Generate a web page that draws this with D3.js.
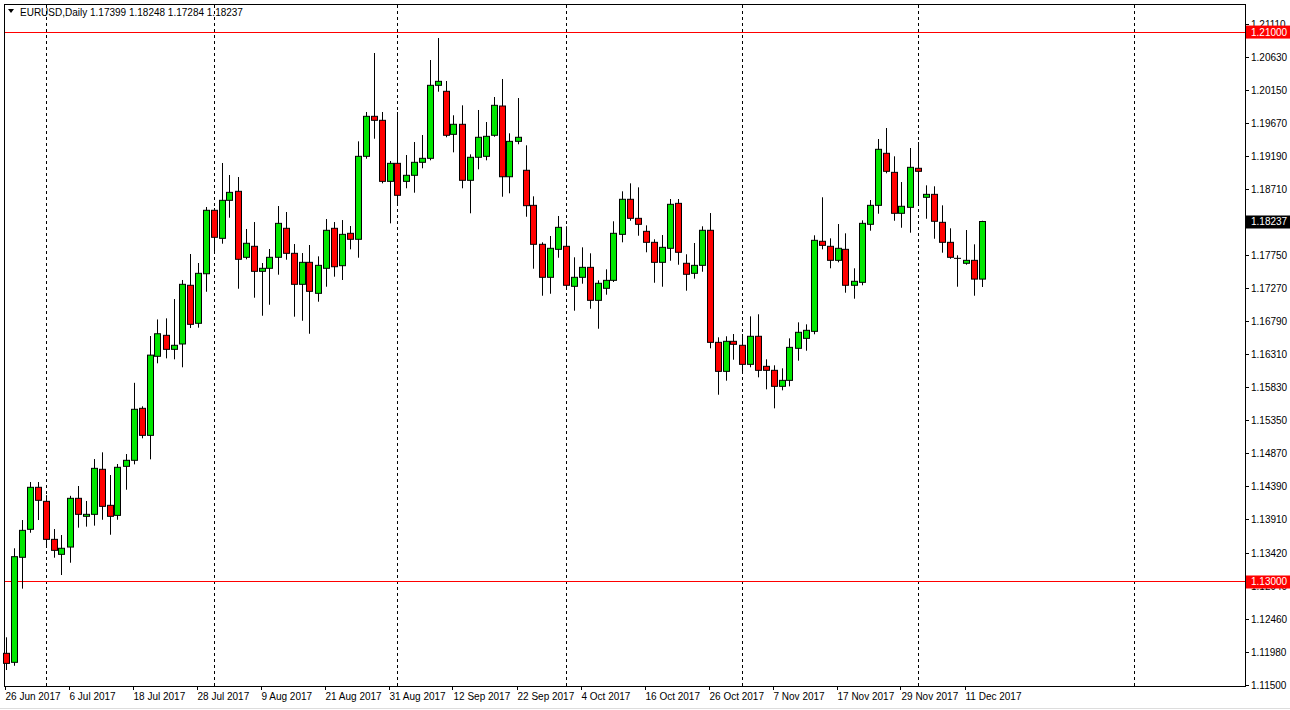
<!DOCTYPE html>
<html><head><meta charset="utf-8">
<script src="https://cdn.jsdelivr.net/npm/d3@7"></script>
<style>body{margin:0;background:#fff;}svg{display:block;}</style>
</head><body><svg id="c" width="1290" height="710"></svg>
<script>
const opens=[1.11955,1.11824,1.13352,1.13759,1.1437,1.14166,1.13613,1.13395,1.13501,1.1421,1.13948,1.13977,1.14632,1.14108,1.13962,1.14675,1.14763,1.15519,1.15126,1.16276,1.16581,1.16377,1.16455,1.17309,1.16756,1.17477,1.184,1.17992,1.18545,1.18676,1.17716,1.17876,1.17512,1.17556,1.17716,1.18138,1.17774,1.17323,1.17643,1.17192,1.17556,1.18138,1.17594,1.18065,1.17978,1.19185,1.19767,1.19709,1.18821,1.19083,1.18821,1.18909,1.19098,1.19156,1.20218,1.20131,1.19505,1.19651,1.18836,1.19171,1.19185,1.19491,1.19917,1.18888,1.19403,1.18982,1.18472,1.17905,1.17425,1.17832,1.17876,1.17294,1.17425,1.1757,1.1709,1.17265,1.17381,1.1805,1.1856,1.18283,1.18094,1.17934,1.17643,1.17847,1.18501,1.17629,1.17483,1.17599,1.18109,1.16479,1.16057,1.16494,1.16436,1.16159,1.16567,1.1613,1.16072,1.15839,1.15926,1.16392,1.16537,1.16639,1.17949,1.17876,1.17672,1.17832,1.17309,1.17352,1.18196,1.18472,1.19229,1.18952,1.18356,1.18443,1.19011,1.18589,1.18632,1.18225,1.17934,1.17701,1.17629,1.17672,1.17399];
const highs=[1.12188,1.13483,1.13894,1.14447,1.14447,1.14256,1.13763,1.13676,1.14246,1.14389,1.14171,1.14781,1.14879,1.14549,1.14709,1.14854,1.1589,1.15548,1.16571,1.16812,1.16828,1.17109,1.17386,1.17764,1.17633,1.18448,1.18433,1.19088,1.18913,1.18884,1.18128,1.18229,1.17633,1.17837,1.18462,1.18375,1.17909,1.17778,1.17895,1.1773,1.18273,1.18229,1.18258,1.18171,1.19403,1.1983,1.20688,1.1983,1.19117,1.1983,1.19204,1.19393,1.19495,1.20586,1.20906,1.20281,1.19782,1.19927,1.19214,1.19859,1.19684,1.20048,1.2031,1.1952,1.20033,1.19345,1.18603,1.17934,1.18026,1.18317,1.18167,1.17716,1.17861,1.17774,1.17381,1.17541,1.1824,1.18676,1.18792,1.18734,1.18181,1.17978,1.1804,1.18564,1.18564,1.1776,1.17924,1.18167,1.1836,1.16552,1.16567,1.166,1.166,1.16857,1.16887,1.16232,1.16145,1.16101,1.16537,1.1677,1.16741,1.18036,1.18589,1.17992,1.182,1.18065,1.17556,1.18254,1.18549,1.19437,1.19597,1.19185,1.18811,1.19306,1.19393,1.18763,1.18749,1.18472,1.18138,1.17745,1.18113,1.17905,1.18248];
const lows=[1.11712,1.11774,1.12896,1.13709,1.13894,1.13506,1.13346,1.13094,1.13273,1.13783,1.13798,1.13812,1.13898,1.1368,1.13898,1.14335,1.14704,1.15083,1.14777,1.16174,1.16246,1.16232,1.16116,1.16687,1.16692,1.17215,1.17783,1.17914,1.18292,1.17259,1.17687,1.17128,1.16866,1.17026,1.17463,1.17681,1.16852,1.16793,1.16604,1.1707,1.17288,1.17434,1.17386,1.17832,1.1771,1.1915,1.19441,1.18792,1.1821,1.18487,1.1872,1.18656,1.19011,1.19127,1.20125,1.19462,1.19243,1.1872,1.18356,1.18996,1.19127,1.1947,1.18597,1.18647,1.1936,1.18306,1.1755,1.17157,1.17186,1.1771,1.17265,1.16939,1.17332,1.16968,1.16677,1.17172,1.17357,1.17934,1.18248,1.1803,1.17789,1.17346,1.17288,1.17666,1.17608,1.1723,1.17405,1.17506,1.16392,1.15717,1.15921,1.16226,1.16037,1.16116,1.1597,1.15795,1.15519,1.15781,1.15839,1.16212,1.16357,1.16596,1.17832,1.17556,1.17643,1.17201,1.17114,1.17309,1.18103,1.1835,1.18938,1.18248,1.18146,1.18074,1.18481,1.18277,1.17986,1.17783,1.17695,1.17288,1.17608,1.17157,1.17284];
const closes=[1.11809,1.13361,1.13744,1.1437,1.14181,1.13613,1.13453,1.13483,1.1421,1.13977,1.13977,1.14646,1.14093,1.13948,1.14661,1.14763,1.15505,1.15126,1.16293,1.16604,1.16377,1.16436,1.17323,1.16741,1.17483,1.184,1.18007,1.18545,1.18661,1.17687,1.1792,1.17512,1.17556,1.17716,1.1821,1.17774,1.17323,1.17643,1.17221,1.17599,1.18109,1.17579,1.1805,1.17978,1.19185,1.19767,1.19709,1.18821,1.19083,1.18618,1.18909,1.19098,1.19156,1.20218,1.20276,1.19491,1.19651,1.18836,1.19171,1.19462,1.19476,1.19927,1.18888,1.19403,1.19462,1.18467,1.17905,1.17425,1.17847,1.18152,1.17309,1.17425,1.1757,1.1709,1.17338,1.17381,1.18065,1.1856,1.18283,1.18196,1.17934,1.17643,1.17861,1.18487,1.17789,1.17469,1.17599,1.18109,1.16479,1.16057,1.16494,1.1645,1.16159,1.16567,1.16072,1.16072,1.15839,1.15926,1.16406,1.16625,1.16654,1.17963,1.1789,1.17672,1.17847,1.17309,1.17367,1.1821,1.18472,1.19287,1.18967,1.18356,1.18458,1.19025,1.18967,1.18632,1.1824,1.17934,1.17716,1.17701,1.17672,1.17399,1.18237];
const dateLabels=["26 Jun 2017","6 Jul 2017","18 Jul 2017","28 Jul 2017","9 Aug 2017","21 Aug 2017","31 Aug 2017","12 Sep 2017","22 Sep 2017","4 Oct 2017","16 Oct 2017","26 Oct 2017","7 Nov 2017","17 Nov 2017","29 Nov 2017","11 Dec 2017"];
const dateLabelIdx=[0,8,16,24,32,40,48,56,64,72,80,88,96,104,112,120];
const monthStartIdx=[5,26,49,70,92,114,141];
const priceTicks=[1.21110,1.20630,1.20150,1.19670,1.19190,1.18710,1.17750,1.17270,1.16790,1.16310,1.15830,1.15350,1.14870,1.14390,1.13910,1.13420,1.12940,1.12460,1.11980,1.11500];
const hLines=[1.21000,1.13000];
const symbol="EURUSD,Daily";

const svg=d3.select("#c");
const L=4,R=1245,T=4,B=686;
const x=d3.scaleLinear().domain([0,155]).range([5.5,5.5+8*155]);
const y=d3.scaleLinear().domain([1.115,1.2111]).range([684.6,24]);
const font="Liberation Sans, Arial, sans-serif";

svg.append("rect").attr("x",L+0.5).attr("y",T+0.5).attr("width",R-L).attr("height",B-T).attr("fill","#fff").attr("stroke","#000");
svg.append("line").attr("x1",0).attr("x2",1290).attr("y1",708.5).attr("y2",708.5).attr("stroke","#ddd");

// month separators
svg.selectAll(".ms").data(monthStartIdx).join("line")
 .attr("x1",d=>Math.round(x(d))+0.5).attr("x2",d=>Math.round(x(d))+0.5)
 .attr("y1",T+1).attr("y2",B).attr("stroke","#000").attr("stroke-dasharray","3,3");

// horizontal levels
svg.selectAll(".hl").data(hLines).join("line")
 .attr("x1",L+1).attr("x2",R).attr("y1",d=>Math.round(y(d))+0.5).attr("y2",d=>Math.round(y(d))+0.5)
 .attr("stroke","#f00");

// candles
const data=opens.map((o,i)=>({i,o,h:highs[i],l:lows[i],c:closes[i]}));
const g=svg.append("g");
g.selectAll(".w").data(data).join("line")
 .attr("x1",d=>Math.round(x(d.i))+0.5).attr("x2",d=>Math.round(x(d.i))+0.5)
 .attr("y1",d=>y(d.h)).attr("y2",d=>y(d.l)).attr("stroke","#000").attr("stroke-width",1);
g.selectAll(".b").data(data).join("rect")
 .attr("x",d=>Math.round(x(d.i))-2.5).attr("width",6)
 .attr("y",d=>y(Math.max(d.o,d.c)))
 .attr("height",d=>Math.max(0.01,Math.abs(y(d.o)-y(d.c))))
 .attr("fill",d=>d.c>=d.o?"#00e600":"#ff0000").attr("stroke","#000").attr("stroke-width",1);

// price axis
svg.selectAll(".pt").data(priceTicks).join("line")
 .attr("x1",R).attr("x2",R+4).attr("y1",d=>Math.round(y(d))+0.5).attr("y2",d=>Math.round(y(d))+0.5).attr("stroke","#000");
svg.selectAll(".pl").data(priceTicks).join("text")
 .attr("x",R+6).attr("y",d=>y(d)+4).attr("font-family",font).attr("font-size",10).attr("fill","#000")
 .text(d=>d.toFixed(5));

// price boxes
const last=closes[closes.length-1];
const boxes=hLines.map(v=>({v,fill:"#f00"})).concat([{v:last,fill:"#000"}]);
const bg=svg.selectAll(".bx").data(boxes).join("g");
bg.append("rect").attr("x",R+1).attr("width",44).attr("y",d=>y(d.v)-6).attr("height",13).attr("fill",d=>d.fill);
bg.append("text").attr("x",R+6).attr("y",d=>y(d.v)+4).attr("font-family",font).attr("font-size",10).attr("fill","#fff").text(d=>d.v.toFixed(5));

// date axis
svg.selectAll(".dt").data(dateLabelIdx).join("line")
 .attr("x1",d=>Math.round(x(d))-0.5).attr("x2",d=>Math.round(x(d))-0.5).attr("y1",B).attr("y2",B+4).attr("stroke","#000");
svg.selectAll(".dl").data(dateLabels).join("text")
 .attr("x",(d,i)=>x(dateLabelIdx[i])).attr("y",700).attr("font-family",font).attr("font-size",10).attr("fill","#000")
 .text(d=>d);

// header
svg.append("path").attr("d","M8,9 L14,9 L11,13 Z").attr("fill","#000");
svg.append("text").attr("x",20).attr("y",16).attr("font-family",font).attr("font-size",10).attr("fill","#000")
 .text(`${symbol}  ${opens[opens.length-1].toFixed(5)} ${highs[highs.length-1].toFixed(5)} ${lows[lows.length-1].toFixed(5)} ${last.toFixed(5)}`);
</script></body></html>
